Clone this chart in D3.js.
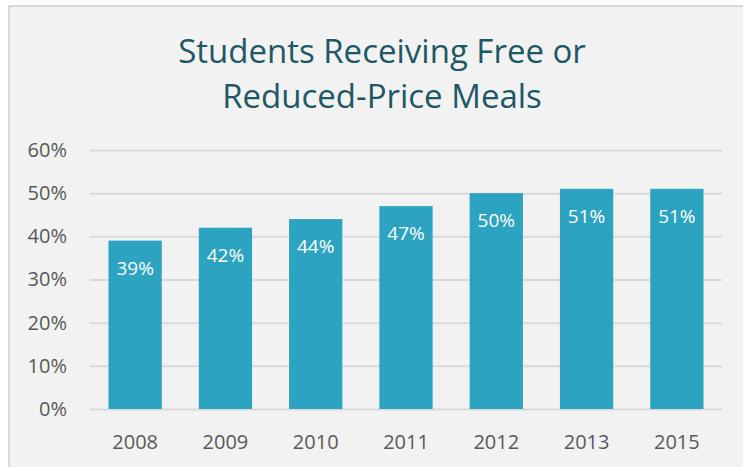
<!DOCTYPE html>
<html>
<head>
<meta charset="utf-8">
<script src="https://cdn.jsdelivr.net/npm/d3@7"></script>
<style>
  body { margin: 0; background: #fff; }
  svg { display: block; font-family: "Open Sans", sans-serif; }
</style>
</head>
<body>
<div id="chart-area"></div>
<script>
var years = ["2008", "2009", "2010", "2011", "2012", "2013", "2015"];
var shares = [39, 42, 44, 47, 50, 51, 51];
var yTicks = [0, 10, 20, 30, 40, 50, 60];
var titleLines = ["Students Receiving Free or", "Reduced-Price Meals"];

var width = 743,
	height = 467;

var margin = {top: 150, right: 21, bottom: 58, left: 90};

var svg = d3.select("#chart-area").append("svg")
	.attr("width", width)
	.attr("height", height);

// panel background + border (runs off the right/bottom edge)
svg.append("rect")
	.attr("x", 9)
	.attr("y", 6)
	.attr("width", width)
	.attr("height", height)
	.attr("fill", "#f2f2f2")
	.attr("stroke", "#d9d9d9")
	.attr("stroke-width", 2);

svg.selectAll(".title")
	.data(titleLines)
	.enter()
	.append("text")
	.attr("class", "title")
	.attr("x", 382)
	.attr("y", function(d, i) { return 63 + i * 45; })
	.attr("text-anchor", "middle")
	.attr("fill", "#1e5866")
	.style("font-size", "33px")
	.text(function(d) { return d; });

var x = d3.scaleBand()
	.domain(years)
	.range([margin.left, width - margin.right])
	.paddingInner(0.41)
	.paddingOuter(0.205);

var y = d3.scaleLinear()
	.domain([0, 60])
	.range([height - margin.bottom, margin.top]);

var yAxis = d3.axisLeft(y)
	.tickValues(yTicks)
	.tickSize(-(width - margin.right - margin.left))
	.tickPadding(23)
	.tickFormat(function(d) { return d + "%"; });

var gy = svg.append("g")
	.attr("transform", "translate(" + margin.left + ",0)")
	.call(yAxis)
	.attr("font-family", null)
	.attr("font-size", null);
gy.select(".domain").remove();
gy.selectAll("line").attr("stroke", "#d9d9d9").attr("stroke-width", 2);
gy.selectAll("text")
	.attr("fill", "#595959")
	.style("font-size", "20px");

var xAxis = d3.axisBottom(x)
	.tickSize(0)
	.tickPadding(26);

var gx = svg.append("g")
	.attr("transform", "translate(0," + (height - margin.bottom) + ")")
	.call(xAxis)
	.attr("font-family", null)
	.attr("font-size", null);
gx.select(".domain").remove();
gx.selectAll("text")
	.attr("fill", "#595959")
	.style("font-size", "20px");

svg.selectAll(".bar")
	.data(shares)
	.enter()
	.append("rect")
	.attr("class", "bar")
	.attr("x", function(d, i) { return x(years[i]); })
	.attr("y", function(d) { return y(d); })
	.attr("width", x.bandwidth())
	.attr("height", function(d) { return y(0) - y(d); })
	.attr("fill", "#2ca3c1");

svg.selectAll(".label")
	.data(shares)
	.enter()
	.append("text")
	.attr("class", "label")
	.attr("x", function(d, i) { return x(years[i]) + x.bandwidth() / 2; })
	.attr("y", function(d) { return y(d) + 34; })
	.attr("text-anchor", "middle")
	.attr("fill", "#fff")
	.style("font-size", "19px")
	.text(function(d) { return d + "%"; });
</script>
</body>
</html>
